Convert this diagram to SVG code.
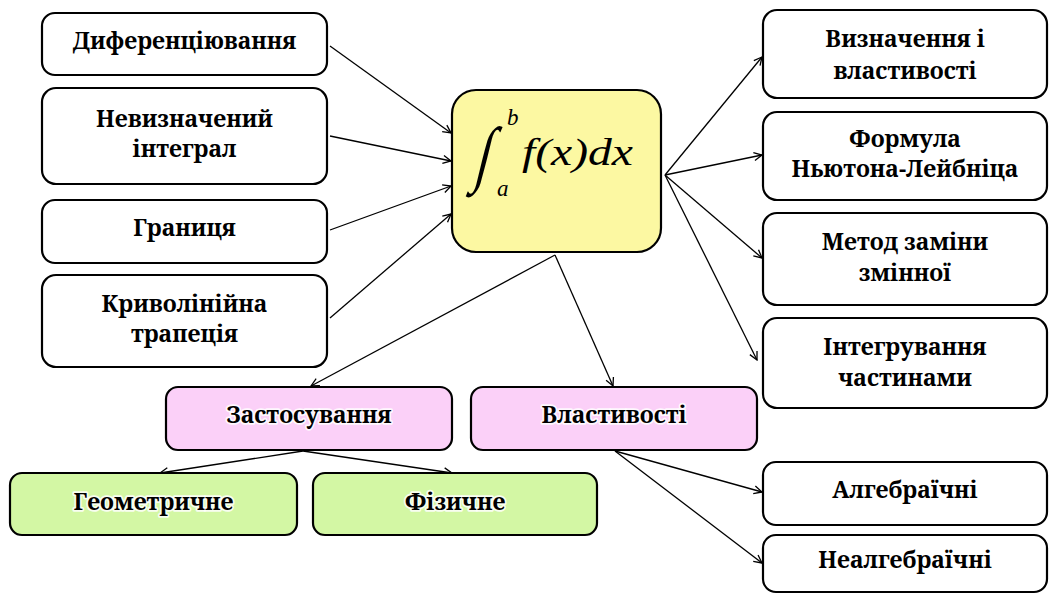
<svg xmlns="http://www.w3.org/2000/svg" width="1051" height="594" viewBox="0 0 1051 594">
<defs>
<marker id="ah" viewBox="0 0 10 10" refX="9" refY="5" markerWidth="10" markerHeight="10" markerUnits="userSpaceOnUse" orient="auto">
<path d="M1,1 L9,5 L1,9" fill="none" stroke="#000" stroke-width="1.3"/>
</marker>
</defs>
<style>
.box{fill:#fff;stroke:#000;stroke-width:2.2}
.c{fill:#fcf8a2;stroke:#000;stroke-width:2.2}
.p{fill:#fbd0f8;stroke:#000;stroke-width:2.2}
.g{fill:#d3f7a4;stroke:#000;stroke-width:2.2}
.t{font-family:"Noto Serif","DejaVu Serif","FreeSerif","Tinos","Liberation Serif","Times New Roman",serif;font-weight:bold;font-size:23px;fill:#000;text-anchor:middle}
.h{paint-order:stroke;stroke:#fff;stroke-width:3.5;stroke-opacity:0.85;stroke-linejoin:round}
.m{font-family:"Liberation Serif","Times New Roman",serif;font-style:italic;fill:#000}
.e{stroke:#000;stroke-width:1.3;fill:none;marker-end:url(#ah)}
</style>
<rect width="1051" height="594" fill="#fff"/>
<g id="connectors">
<line class="e" x1="330" y1="46" x2="451" y2="133"/>
<line class="e" x1="330" y1="136" x2="451" y2="161"/>
<line class="e" x1="330" y1="230" x2="451" y2="186"/>
<line class="e" x1="330" y1="318" x2="451" y2="214"/>
<line class="e" x1="665" y1="175" x2="762" y2="57"/>
<line class="e" x1="665" y1="175" x2="762" y2="155"/>
<line class="e" x1="665" y1="175" x2="762" y2="258"/>
<line class="e" x1="665" y1="175" x2="757" y2="360"/>
<line class="e" x1="555" y1="255" x2="311" y2="386"/>
<line class="e" x1="555" y1="255" x2="613" y2="386"/>
<line class="e" x1="303" y1="451" x2="160" y2="473"/>
<line class="e" x1="303" y1="451" x2="452" y2="473"/>
<line class="e" x1="615" y1="451" x2="762" y2="492"/>
<line class="e" x1="615" y1="451" x2="762" y2="563"/>
</g>
<g id="n-dyf"><rect class="box" x="42" y="13" width="285" height="62" rx="13"/><text class="t" x="184.5" y="49">Диференціювання</text></g>
<g id="n-nevyzn"><rect class="box" x="42" y="88" width="285" height="96" rx="14"/><text class="t" x="184.5" y="127">Невизначений</text><text class="t" x="184.5" y="157">інтеграл</text></g>
<g id="n-granytsia"><rect class="box" x="42" y="200" width="285" height="63" rx="13"/><text class="t" x="184.5" y="236">Границя</text></g>
<g id="n-kryvol"><rect class="box" x="42" y="275" width="285" height="92" rx="14"/><text class="t" x="184.5" y="312">Криволінійна</text><text class="t" x="184.5" y="342">трапеція</text></g>
<g id="n-center"><rect class="c" x="452" y="90" width="209" height="162" rx="24"/>
<text class="m" x="487" y="170" font-size="52" text-anchor="middle" transform="translate(487 150) skewX(-14) scale(1 1.4) translate(-487 -150)">∫</text>
<text class="m" x="507" y="125" font-size="23">b</text>
<text class="m" x="497" y="196" font-size="23">a</text>
<text class="m" x="522" y="165" font-size="38" textLength="111" lengthAdjust="spacingAndGlyphs">f(x)dx</text></g>
<g id="n-vyzn"><rect class="box" x="763" y="10" width="284" height="88" rx="14"/><text class="t" x="905" y="47">Визначення і</text><text class="t" x="905" y="79">властивості</text></g>
<g id="n-formula"><rect class="box" x="763" y="112" width="284" height="88" rx="14"/><text class="t" x="905" y="147">Формула</text><text class="t" x="905" y="177">Ньютона-Лейбніца</text></g>
<g id="n-metod"><rect class="box" x="763" y="213" width="284" height="92" rx="14"/><text class="t" x="905" y="250">Метод заміни</text><text class="t" x="905" y="281">змінної</text></g>
<g id="n-integr"><rect class="box" x="763" y="318" width="284" height="90" rx="14"/><text class="t" x="905" y="355">Інтегрування</text><text class="t" x="905" y="386">частинами</text></g>
<g id="n-zastos"><rect class="p" x="166" y="387" width="286" height="63" rx="12"/><text class="t h" x="309" y="423">Застосування</text></g>
<g id="n-vlast"><rect class="p" x="471" y="387" width="286" height="63" rx="12"/><text class="t h" x="614" y="423">Властивості</text></g>
<g id="n-geom"><rect class="g" x="10" y="473" width="287" height="62" rx="12"/><text class="t h" x="153.5" y="510">Геометричне</text></g>
<g id="n-fiz"><rect class="g" x="313" y="473" width="284" height="62" rx="12"/><text class="t h" x="455" y="510">Фізичне</text></g>
<g id="n-alg"><rect class="box" x="763" y="462" width="284" height="63" rx="13"/><text class="t" x="905" y="498">Алгебраїчні</text></g>
<g id="n-nealg"><rect class="box" x="763" y="535" width="284" height="57" rx="13"/><text class="t" x="905" y="568">Неалгебраїчні</text></g>
</svg>
